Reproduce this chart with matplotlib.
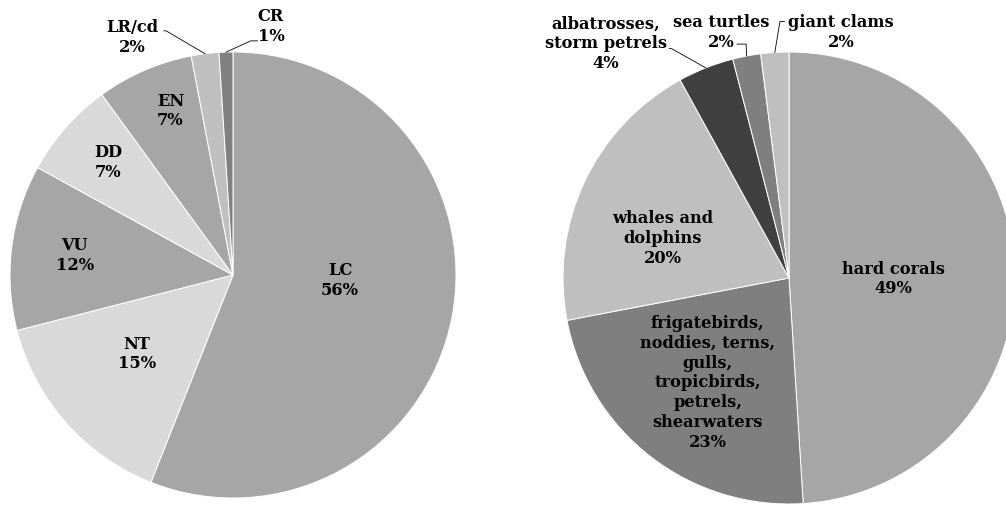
import numpy as np
import matplotlib.pyplot as plt

# IUCN status shares (left) and taxon group shares (right), in percent
status = ['LC', 'NT', 'VU', 'DD', 'EN', 'LR/cd', 'CR']
status_pct = [56, 15, 12, 7, 7, 2, 1]
status_colors = ['#a6a6a6', '#d9d9d9', '#a6a6a6', '#d9d9d9', '#a6a6a6', '#bfbfbf', '#808080']
# label centres in pie units (radius 1)
status_pos = [(0.48, -0.02), (-0.43, -0.35), (-0.71, 0.09), (-0.56, 0.51),
              (-0.28, 0.74), (-0.45, 1.07), (0.17, 1.12)]

groups = ['hard corals',
          'frigatebirds,\nnoddies, terns,\ngulls,\ntropicbirds,\npetrels,\nshearwaters',
          'whales and\ndolphins',
          'albatrosses,\nstorm petrels',
          'sea turtles',
          'giant clams']
groups_pct = [49, 23, 20, 4, 2, 2]
groups_colors = ['#a6a6a6', '#7f7f7f', '#bfbfbf', '#404040', '#7f7f7f', '#bfbfbf']
groups_pos = [(0.46, 0.0), (-0.36, -0.46), (-0.56, 0.18), (-0.81, 1.04),
              (-0.30, 1.09), (0.23, 1.09)]

W, H = 1006, 506
plt.rcParams['font.family'] = 'DejaVu Serif'
fig = plt.figure(figsize=(W / 100, H / 100), dpi=100)


def pie_axes(cx, cy, r, lim=1.25):
    s = r * lim
    ax = fig.add_axes([(cx - s) / W, (H - cy - s) / H, 2 * s / W, 2 * s / H])
    ax.set_xlim(-lim, lim)
    ax.set_ylim(-lim, lim)
    ax.set_aspect('equal')
    ax.axis('off')
    return ax


def draw_pie(ax, names, vals, colors, pos, leaders):
    wedges, _ = ax.pie(vals, colors=colors, startangle=90, counterclock=False,
                       wedgeprops=dict(edgecolor='white', linewidth=0.7))
    for i, (w, name, v, (x, y)) in enumerate(zip(wedges, names, vals, pos)):
        ax.text(x, y, f'{name}\n{v}%', ha='center', va='center',
                fontsize=11.7, fontweight='bold', linespacing=1.22, color='black')
        if i in leaders:
            mid = np.deg2rad((w.theta1 + w.theta2) / 2)
            ex, ey = np.cos(mid), np.sin(mid)
            lx, ly = leaders[i]
            ax.plot([lx[0], lx[1], ex], [ly[0], ly[1], ey], color='black', lw=0.6)


left = pie_axes(233, 276, 223)
draw_pie(left, status, status_pct, status_colors, status_pos,
         {5: ((-0.31, -0.30), (1.095, 1.095)),
          6: ((0.11, 0.08), (1.05, 1.05))})

right = pie_axes(789, 279, 226)
draw_pie(right, groups, groups_pct, groups_colors, groups_pos,
         {3: ((-0.53, -0.52), (1.015, 1.015)),
          4: ((-0.23, -0.19), (1.035, 1.035)),
          5: ((-0.02, -0.04), (1.135, 1.135))})

fig.savefig('out.png', dpi=100)
